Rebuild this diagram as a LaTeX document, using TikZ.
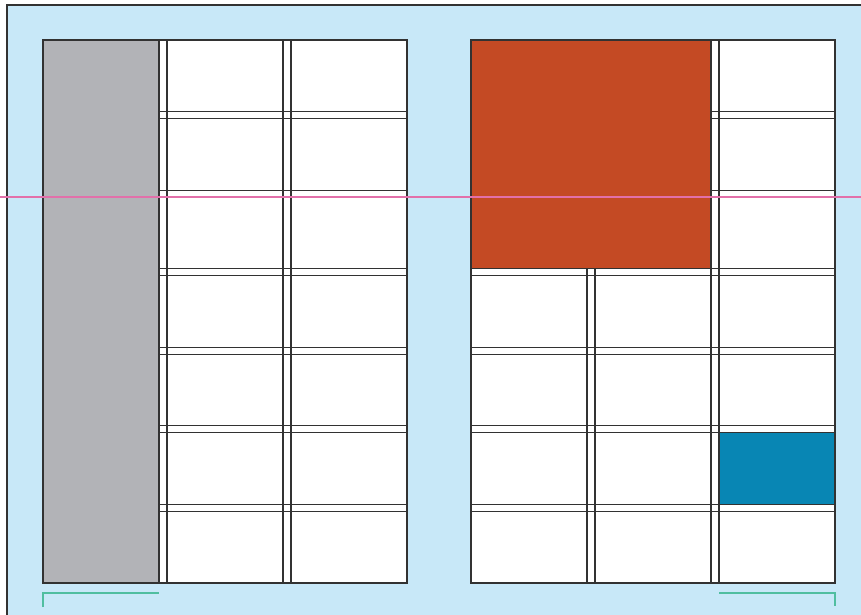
\documentclass[tikz,border=0pt]{standalone}
\definecolor{bgblue}{RGB}{200,232,248}
\definecolor{pagegray}{RGB}{178,179,183}
\definecolor{rust}{RGB}{196,74,36}
\definecolor{teal}{RGB}{8,134,180}
\definecolor{guide}{RGB}{226,112,170}
\definecolor{bracket}{RGB}{80,190,160}
\definecolor{ink}{RGB}{50,50,50}
\tikzset{
  gridline/.style={draw=ink, line width=1.1pt},
  frameline/.style={draw=ink, line width=1.6pt},
  pagebox/.style={draw=ink, line width=1.2pt},
  bracketline/.style={draw=bracket, line width=1.4pt},
  guideline/.style={draw=guide, line width=1.1pt}
}
\begin{document}
\begin{tikzpicture}[x=1pt,y=-1pt]
\useasboundingbox (0,0) rectangle (861,615);
\fill[white] (0,0) rectangle (861,615);
\fill[bgblue] (7,5) rectangle (861,615);
\draw[frameline] (7,615) -- (7,5) -- (861,5);
% row boundaries
\def\rowtop#1{\fpeval{40+78.5714*#1}}
% left page
\fill[white] (43,40) rectangle (407,583);
\fill[pagegray] (43,40) rectangle (159,583);
\foreach \i in {0,...,5}{
  \pgfmathsetmacro{\ya}{40+78.5714*\i+71.5714}
  \pgfmathsetmacro{\yb}{\ya+7}
  \draw[gridline] (159,\ya) -- (407,\ya);
  \draw[gridline] (159,\yb) -- (407,\yb);
}
\foreach \x in {159,167,283,291}{
  \draw[gridline] (\x,40) -- (\x,583);
}
\draw[pagebox] (43,40) rectangle (407,583);
% right page
\fill[white] (471,40) rectangle (835,583);
\foreach \i in {0,...,5}{
  \pgfmathsetmacro{\ya}{40+78.5714*\i+71.5714}
  \pgfmathsetmacro{\yb}{\ya+7}
  \ifnum\i<2
    \draw[gridline] (711,\ya) -- (835,\ya);
    \draw[gridline] (711,\yb) -- (835,\yb);
  \else
    \draw[gridline] (471,\ya) -- (835,\ya);
    \draw[gridline] (471,\yb) -- (835,\yb);
  \fi
}
\foreach \x in {587,595}{
  \draw[gridline] (\x,268.71) -- (\x,583);
}
\foreach \x in {711,719}{
  \draw[gridline] (\x,40) -- (\x,583);
}
\filldraw[fill=rust, pagebox] (471,40) rectangle (711,268.71);
\filldraw[fill=teal, pagebox] (719,432.86) rectangle (835,504.43);
\draw[pagebox] (471,40) rectangle (835,583);
% guide line
\draw[guideline] (0,197) -- (861,197);
% brackets
\draw[bracketline] (43,607) -- (43,593) -- (159,593);
\draw[bracketline] (719,593) -- (835,593) -- (835,606);
\end{tikzpicture}
\end{document}
